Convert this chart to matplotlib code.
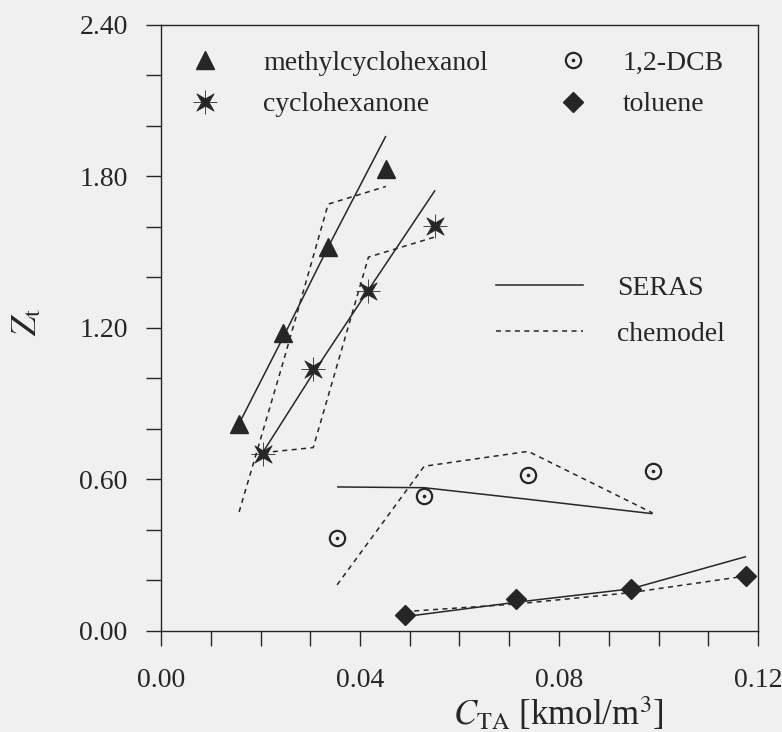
import math
import matplotlib
matplotlib.use("Agg")
import matplotlib.pyplot as plt
from matplotlib.ticker import MultipleLocator, FormatStrFormatter
from matplotlib.legend_handler import HandlerTuple
from matplotlib.lines import Line2D

# ---------------- data ----------------
methyl_x = [0.0157, 0.0245, 0.0336, 0.0452]
methyl_y = [0.82, 1.18, 1.52, 1.83]
methyl_seras = [0.82, 1.16, 1.52, 1.96]
methyl_chem = [0.47, 1.06, 1.69, 1.76]

cyclo_x = [0.0206, 0.0306, 0.0417, 0.0551]
cyclo_y = [0.70, 1.035, 1.345, 1.605]
cyclo_seras = [0.71, 1.02, 1.35, 1.745]
cyclo_chem = [0.705, 0.725, 1.48, 1.56]

dcb_x = [0.0354, 0.0529, 0.0738, 0.0988]
dcb_y = [0.366, 0.534, 0.618, 0.633]
dcb_seras = [0.569, 0.566, 0.52, 0.463]
dcb_chem = [0.181, 0.651, 0.71, 0.466]

tol_x = [0.0490, 0.0714, 0.0944, 0.1176]
tol_y = [0.062, 0.124, 0.164, 0.216]
tol_seras = [0.055, 0.112, 0.165, 0.293]
tol_chem = [0.075, 0.105, 0.150, 0.216]

series_labels = ["methylcyclohexanol", "cyclohexanone", "1,2-DCB", "toluene"]
model_labels = ["SERAS", "chemodel"]
x_label = r"$C_{\mathrm{TA}}$ [kmol/m$^3$]"
y_label = r"$Z_{\mathrm{t}}$"

# ---------------- style ----------------
INK = "#262626"
BG = "#f0f0f0"
plt.rcParams["font.family"] = ["Liberation Serif", "DejaVu Serif"]
plt.rcParams["mathtext.fontset"] = "stix"
plt.rcParams["lines.scale_dashes"] = False
DASH = (0, (3.6, 3.2))
LW = 1.1

fig = plt.figure(figsize=(7.82, 7.32), dpi=100, facecolor=BG)
ax = fig.add_axes([161 / 782, (732 - 630.5) / 732, (758 - 161) / 782, (630.5 - 25) / 732])
ax.set_facecolor(BG)

# model lines
for xs, s, c in [(methyl_x, methyl_seras, methyl_chem),
                 (cyclo_x, cyclo_seras, cyclo_chem),
                 (dcb_x, dcb_seras, dcb_chem),
                 (tol_x, tol_seras, tol_chem)]:
    ax.plot(xs, s, color=INK, lw=LW, solid_capstyle="butt")
    ax.plot(xs, c, color=INK, lw=LW, linestyle=DASH)

# star marker (4-pointed, rotated)
r_in = 0.30
star_verts = []
for k in range(4):
    a_out = math.radians(45 + 90 * k)
    a_in = math.radians(90 + 90 * k)
    star_verts.append((math.cos(a_out), math.sin(a_out)))
    star_verts.append((r_in * math.cos(a_in), r_in * math.sin(a_in)))
star_verts.append(star_verts[0])

h_tri, = ax.plot(methyl_x, methyl_y, linestyle="none", marker="^", ms=13.5,
                 color=INK, mec=INK)
h_plus, = ax.plot(cyclo_x, cyclo_y, linestyle="none", marker="+", ms=17,
                  mew=0.6, color=INK)
h_star, = ax.plot(cyclo_x, cyclo_y, linestyle="none", marker=star_verts, ms=12.5,
                  color=INK, mec=INK, mew=0.5)
h_circ, = ax.plot(dcb_x, dcb_y, linestyle="none", marker="o", ms=11, mew=1.6,
                  mfc="none", mec=INK)
h_dot, = ax.plot(dcb_x, dcb_y, linestyle="none", marker="o", ms=2.6, mew=0,
                 color=INK)
h_dia, = ax.plot(tol_x, tol_y, linestyle="none", marker="D", ms=10.5,
                 color=INK, mec=INK)

# axes
ax.set_xlim(0, 0.12)
ax.set_ylim(0, 2.4)
ax.xaxis.set_major_locator(MultipleLocator(0.04))
ax.xaxis.set_minor_locator(MultipleLocator(0.01))
ax.yaxis.set_major_locator(MultipleLocator(0.6))
ax.yaxis.set_minor_locator(MultipleLocator(0.2))
ax.xaxis.set_major_formatter(FormatStrFormatter("%.2f"))
ax.yaxis.set_major_formatter(FormatStrFormatter("%.2f"))
ax.tick_params(which="both", direction="out", length=11, width=1.0, color=INK,
               labelcolor=INK, labelsize=20)
ax.tick_params(axis="y", which="major", pad=13)
ax.tick_params(axis="x", which="major", pad=16)
for sp in ax.spines.values():
    sp.set_color(INK)
    sp.set_linewidth(1.0)

ax.set_xlabel(x_label, fontsize=25, color=INK)
ax.xaxis.set_label_coords((558 - 161) / 597, (630.5 - 695) / 605.5)
ax.set_ylabel(y_label, fontsize=25, color=INK)
ax.yaxis.set_label_coords((44 - 161) / 597, (630.5 - 322) / 605.5)

# legends
common = dict(frameon=False, fontsize=20, handlelength=1.0, labelspacing=0.58,
              borderpad=0, borderaxespad=0, labelcolor=INK, loc="upper left",
              handler_map={tuple: HandlerTuple(ndivide=1)})
leg1a = ax.legend([h_tri, (h_plus, h_star)], series_labels[:2],
                  bbox_to_anchor=(0.051, 0.958), handletextpad=1.58, **common)
ax.add_artist(leg1a)
leg1b = ax.legend([(h_circ, h_dot), h_dia], series_labels[2:],
                  bbox_to_anchor=((559 - 161) / 597, 0.958), handletextpad=1.30,
                  **common)
ax.add_artist(leg1b)
ls_handles = [Line2D([], [], color=INK, lw=LW),
              Line2D([], [], color=INK, lw=LW, linestyle=DASH)]
leg2 = ax.legend(ls_handles, model_labels, loc="upper left",
                 bbox_to_anchor=((496 - 161) / 597, 0.587), frameon=False,
                 fontsize=20, handlelength=3.14, handletextpad=1.23,
                 labelspacing=0.75, borderpad=0, borderaxespad=0, labelcolor=INK)

fig.savefig("out.png", dpi=100, facecolor=BG)
